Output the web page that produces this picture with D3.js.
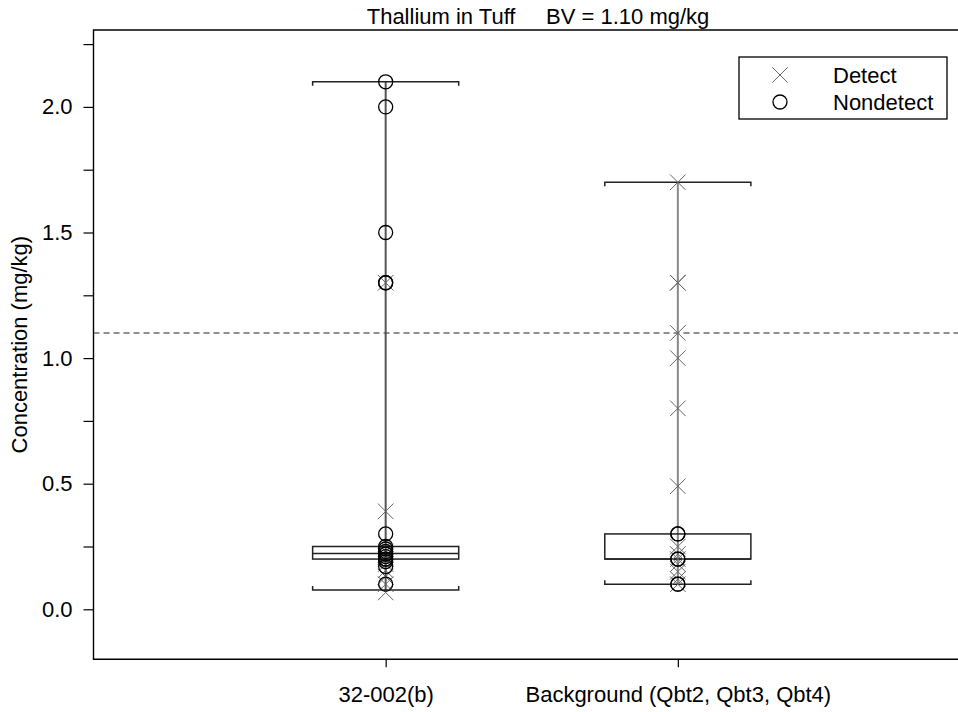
<!DOCTYPE html>
<html>
<head>
<meta charset="utf-8">
<script src="https://cdn.jsdelivr.net/npm/d3@7"></script>
<style>
  html, body { margin: 0; padding: 0; background: #fff; }
  svg { display: block; font-family: "Liberation Sans", Arial, sans-serif; }
</style>
</head>
<body>
<svg id="chart" width="958" height="712"></svg>
<script>
// Thallium concentrations by sample group
const categories = ["32-002(b)", "Background (Qbt2, Qbt3, Qbt4)"];
const categoryPos = [1, 2];

// box statistics per group
const boxLow    = [0.077, 0.10];
const boxQ1     = [0.20, 0.20];
const boxMedian = [0.222, 0.20];
const boxQ3     = [0.25, 0.30];
const boxHigh   = [2.10, 1.70];

// individual results
const detects = [
  [1.3, 0.39, 0.23, 0.21, 0.20, 0.18, 0.155, 0.13, 0.10, 0.067],
  [1.7, 1.3, 1.3, 1.1, 1.0, 0.8, 0.49, 0.25, 0.22, 0.20, 0.18, 0.15, 0.12, 0.10]
];
const nondetects = [
  [2.1, 2.0, 1.5, 1.3, 1.3, 0.30, 0.25, 0.24, 0.23, 0.22, 0.22, 0.21, 0.20, 0.20, 0.19, 0.17, 0.10],
  [0.30, 0.30, 0.20, 0.20, 0.10, 0.10]
];

const bv = 1.10;
const yTicks = [0.0, 0.5, 1.0, 1.5, 2.0];
const yMinorTicks = [0.25, 0.75, 1.25, 1.75, 2.25];
const title = "Thallium in Tuff     BV = 1.10 mg/kg";
const yTitle = "Concentration (mg/kg)";
const legendItems = ["Detect", "Nondetect"];

const svg = d3.select("#chart");
const plotLeft = 93.5, plotTop = 30, plotBottom = 659.3, plotRight = 970;
const fontSize = 22;

const x = d3.scaleLinear().domain([0, 3]).range([plotLeft, plotRight]);
const y = d3.scaleLinear().domain([0, 2]).range([609.3, 106.9]);
const halfW = 0.25;

// frame
svg.append("path")
  .attr("d", `M${plotRight},${plotTop}H${plotLeft}V${plotBottom}H${plotRight}`)
  .attr("fill", "none").attr("stroke", "#000").attr("stroke-width", 1.4);

// y axis
const yAxis = d3.axisLeft(y).tickValues(yTicks).tickFormat(d3.format(".1f")).tickSize(10).tickPadding(11);
const gy = svg.append("g").attr("transform", `translate(${plotLeft},0)`).call(yAxis);
gy.select(".domain").remove();
gy.selectAll("text").attr("font-size", fontSize).attr("font-family", "Liberation Sans, Arial, sans-serif").attr("fill", "#000");
gy.selectAll("line").attr("stroke", "#000").attr("stroke-width", 1.2);
const gyMinor = svg.append("g").attr("transform", `translate(${plotLeft},0)`)
  .call(d3.axisLeft(y).tickValues(yMinorTicks).tickFormat("").tickSize(10));
gyMinor.select(".domain").remove();
gyMinor.selectAll("line").attr("stroke", "#000").attr("stroke-width", 1.2);

// x axis
const xAxis = d3.axisBottom(x).tickValues(categoryPos).tickFormat((d, i) => categories[i]).tickSize(8).tickPadding(19);
const gx = svg.append("g").attr("transform", `translate(0,${plotBottom})`).call(xAxis);
gx.select(".domain").remove();
gx.selectAll("text").attr("font-size", fontSize).attr("font-family", "Liberation Sans, Arial, sans-serif").attr("fill", "#000");
gx.selectAll("line").attr("stroke", "#000").attr("stroke-width", 1.2);

// axis title and chart title
svg.append("text")
  .attr("transform", `translate(27,${(plotTop + plotBottom) / 2}) rotate(-90)`)
  .attr("text-anchor", "middle").attr("font-size", fontSize).text(yTitle);
svg.append("text")
  .attr("x", 538).attr("y", 24).attr("text-anchor", "middle")
  .attr("font-size", fontSize).style("white-space", "pre").text(title);

// background value reference line
svg.append("line")
  .attr("x1", plotLeft).attr("x2", plotRight).attr("y1", y(bv)).attr("y2", y(bv))
  .attr("stroke", "#222").attr("stroke-dasharray", "6,4").attr("stroke-width", 1.2);

// boxes and whiskers
const boxes = svg.append("g");
const whiskerColors = ["#555", "#888"];
categoryPos.forEach((c, i) => {
  const g = boxes.append("g");
  g.append("line").attr("x1", x(c)).attr("x2", x(c))
    .attr("y1", y(boxHigh[i])).attr("y2", y(boxLow[i]))
    .attr("stroke", whiskerColors[i]).attr("stroke-width", 2);
  [[boxHigh[i], 4], [boxLow[i], -4]].forEach(([v, t]) => {
    g.append("path")
      .attr("d", `M${x(c - halfW)},${y(v) + t}V${y(v)}H${x(c + halfW)}V${y(v) + t}`)
      .attr("fill", "none").attr("stroke", "#222").attr("stroke-width", 1.5);
  });
  g.append("rect")
    .attr("x", x(c - halfW)).attr("width", x(c + halfW) - x(c - halfW))
    .attr("y", y(boxQ3[i])).attr("height", y(boxQ1[i]) - y(boxQ3[i]))
    .attr("fill", "none").attr("stroke", "#222").attr("stroke-width", 1.5);
  g.append("line").attr("x1", x(c - halfW)).attr("x2", x(c + halfW))
    .attr("y1", y(boxMedian[i])).attr("y2", y(boxMedian[i]))
    .attr("stroke", "#222").attr("stroke-width", 1.5);
});

// markers
const crossR = 7.8, circleR = 7;
function cross(g, cx, cy) {
  g.append("path")
    .attr("d", `M${cx - crossR},${cy - crossR}L${cx + crossR},${cy + crossR}M${cx - crossR},${cy + crossR}L${cx + crossR},${cy - crossR}`)
    .attr("stroke", "#666").attr("stroke-width", 1).attr("fill", "none");
}
function circle(g, cx, cy) {
  g.append("circle").attr("cx", cx).attr("cy", cy).attr("r", circleR)
    .attr("fill", "none").attr("stroke", "#000").attr("stroke-width", 1.3);
}
const pts = svg.append("g");
categoryPos.forEach((c, i) => {
  detects[i].forEach(v => cross(pts, x(c), y(v)));
  nondetects[i].forEach(v => circle(pts, x(c), y(v)));
});

// legend
const lg = svg.append("g");
lg.append("rect").attr("x", 739).attr("y", 57).attr("width", 208).attr("height", 62)
  .attr("fill", "#fff").attr("stroke", "#000").attr("stroke-width", 1.3);
cross(lg, 780, 75);
circle(lg, 780, 102);
legendItems.forEach((t, i) => {
  lg.append("text").attr("x", 833).attr("y", 75 + i * 27).attr("dy", "0.35em")
    .attr("font-size", fontSize).text(t);
});
</script>
</body>
</html>
